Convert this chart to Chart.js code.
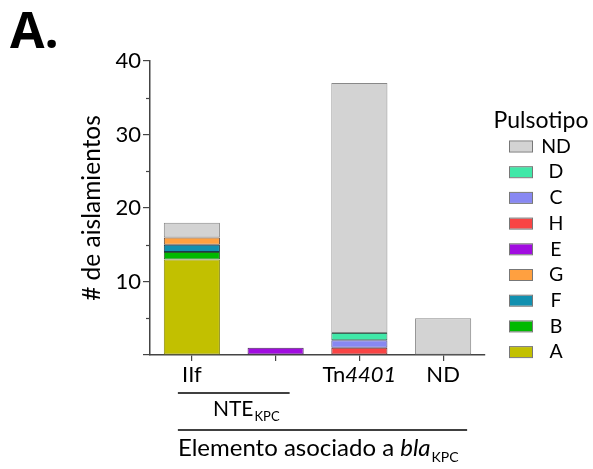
<!DOCTYPE html>
<html>
<head>
<meta charset="utf-8">
<script src="https://cdn.jsdelivr.net/npm/chart.js@4/dist/chart.umd.min.js"></script>
<style>
  html, body { margin: 0; padding: 0; background: #fff; }
  #wrap { position: relative; width: 593px; height: 469px; }
  canvas { position: absolute; left: 0; top: 0; }
</style>
</head>
<body>
<div id="wrap"><canvas id="c" width="593" height="469"></canvas></div>
<script>
// ---- data ----
const categories = ['IIf', '', 'Tn4401', 'ND'];
const seriesNames = ['A', 'B', 'F', 'G', 'E', 'H', 'C', 'D', 'ND'];
const valuesA  = [13, null, null, null];
const valuesB  = [1, null, null, null];
const valuesF  = [1, null, null, null];
const valuesG  = [1, null, null, null];
const valuesE  = [null, 1, null, null];
const valuesH  = [null, null, 1, null];
const valuesC  = [null, null, 1, null];
const valuesD  = [null, null, 1, null];
const valuesND = [2, null, 34, 5];
const yTickLabels = ['', '10', '20', '30', '40'];
const yMinorTicks = [5, 15, 25, 35];
const legendTitle = 'Pulsotipo';
const yTitle = '# de aislamientos';
const groupLabel = 'NTE';
const groupSub = 'KPC';
const axisTitleMain = 'Elemento asociado a ';
const axisTitleItalic = 'bla';
const axisTitleSub = 'KPC';
const panelLabel = 'A.';

// ---- styles ----
const colors = {
  A: '#c2c000', B: '#00b900', F: '#1190b0', G: '#ffa040', E: '#a10ce0',
  H: '#f94444', C: '#8888f2', D: '#40e8a8', ND: '#d3d3d3'
};
const borders = {
  A: '#8a8a10', B: '#2a5a2a', F: '#1a3a4a', G: '#5a4030', E: '#4a2a5a',
  H: '#6a3030', C: '#4a4a7a', D: '#3a6a5a', ND: '#888888'
};
const valueMap = { A: valuesA, B: valuesB, F: valuesF, G: valuesG, E: valuesE,
  H: valuesH, C: valuesC, D: valuesD, ND: valuesND };

const FONT = 'Lato, "Open Sans", sans-serif';

const datasets = seriesNames.map(n => ({
  label: n,
  data: valueMap[n],
  backgroundColor: colors[n],
  borderColor: borders[n],
  borderWidth: 1,
  borderSkipped: false,
  categoryPercentage: 1.0,
  barPercentage: 0.67
}));

const extras = {
  id: 'extras',
  afterDraw(chart) {
    const ctx = chart.ctx;
    const xs = chart.scales.x, ys = chart.scales.y;
    const ca = chart.chartArea;
    ctx.save();
    // minor y ticks
    ctx.strokeStyle = '#444';
    ctx.lineWidth = 1.2;
    yMinorTicks.forEach(v => {
      const y = Math.round(ys.getPixelForValue(v)) + 0.5;
      ctx.beginPath();
      ctx.moveTo(ca.left - 4, y);
      ctx.lineTo(ca.left, y);
      ctx.stroke();
    });
    // x category labels
    ctx.fillStyle = '#000';
    ctx.textBaseline = 'middle';
    const ly = ca.bottom + 20;
    const CS = 22;
    categories.forEach((lab, i) => {
      if (!lab) return;
      const x = xs.getPixelForValue(i);
      const m = lab.match(/^(Tn)(\d+)$/);
      if (m) {
        ctx.font = CS + 'px ' + FONT;
        const w1 = ctx.measureText(m[1]).width;
        ctx.font = 'italic ' + CS + 'px ' + FONT;
        const w2 = ctx.measureText(m[2]).width;
        const start = x - (w1 + w2) / 2;
        ctx.textAlign = 'left';
        ctx.font = CS + 'px ' + FONT;
        ctx.fillText(m[1], start, ly);
        ctx.font = 'italic ' + CS + 'px ' + FONT;
        ctx.fillText(m[2], start + w1, ly);
      } else {
        ctx.font = CS + 'px ' + FONT;
        ctx.textAlign = 'center';
        ctx.fillText(lab, x, ly);
      }
    });
    // group line NTE_KPC
    const x0 = xs.getPixelForValue(0), x1 = xs.getPixelForValue(1), x3 = xs.getPixelForValue(3);
    ctx.strokeStyle = '#000';
    ctx.lineWidth = 1.3;
    ctx.beginPath();
    ctx.moveTo(x0 - 14, ca.bottom + 38);
    ctx.lineTo(x1 + 14, ca.bottom + 38);
    ctx.stroke();
    ctx.font = '21px ' + FONT;
    ctx.textAlign = 'left';
    const gw = ctx.measureText(groupLabel).width;
    ctx.font = '13px ' + FONT;
    const gsw = ctx.measureText(groupSub).width;
    const gx = (x0 - 14 + x1 + 14) / 2 - (gw + gsw) / 2 + 12;
    const gy = ca.bottom + 54;
    ctx.font = '21px ' + FONT;
    ctx.fillText(groupLabel, gx, gy);
    ctx.font = '13px ' + FONT;
    ctx.fillText(groupSub, gx + gw + 1, gy + 8);
    // axis title line
    ctx.beginPath();
    ctx.moveTo(x0 - 14, ca.bottom + 75);
    ctx.lineTo(x3 + 24, ca.bottom + 75);
    ctx.stroke();
    const ty = ca.bottom + 93;
    let tx = x0 - 14;
    ctx.font = '24px ' + FONT;
    ctx.fillText(axisTitleMain, tx, ty);
    tx += ctx.measureText(axisTitleMain).width;
    ctx.font = 'italic 24px ' + FONT;
    ctx.fillText(axisTitleItalic, tx, ty);
    tx += ctx.measureText(axisTitleItalic).width + 1;
    ctx.font = '14px ' + FONT;
    ctx.fillText(axisTitleSub, tx, ty + 9);
    // y title
    ctx.save();
    ctx.translate(92, (ca.top + ca.bottom) / 2 + 0);
    ctx.rotate(-Math.PI / 2);
    ctx.textAlign = 'center';
    ctx.font = '24.5px ' + FONT;
    ctx.fillText(yTitle, 0, 0);
    ctx.restore();
    // panel label
    ctx.font = 'bold 50px "Open Sans", ' + FONT;
    ctx.textAlign = 'left';
    ctx.fillText(panelLabel, 10, 34);
    // legend
    ctx.font = '23px ' + FONT;
    ctx.textAlign = 'center';
    ctx.fillText(legendTitle, 541, 121);
    const items = chart.data.datasets.slice().reverse();
    items.forEach((ds, k) => {
      const cy = 146.5 + k * 25.7;
      ctx.fillStyle = ds.backgroundColor;
      ctx.fillRect(509, cy - 5, 23, 10);
      ctx.strokeStyle = '#777';
      ctx.lineWidth = 1;
      ctx.strokeRect(509.5, cy - 5.5, 23, 11);
      ctx.fillStyle = '#000';
      ctx.font = '19.5px ' + FONT;
      ctx.textAlign = 'center';
      ctx.fillText(ds.label, 556, cy);
    });
    ctx.restore();
  }
};

new Chart(document.getElementById('c'), {
  type: 'bar',
  data: { labels: categories, datasets },
  options: {
    responsive: false,
    animation: false,
    layout: { padding: { left: 0, top: 61, right: 108, bottom: 114 } },
    plugins: { legend: { display: false }, tooltip: { enabled: false } },
    scales: {
      x: {
        stacked: true,
        afterFit(s) { s.height = 0; },
        grid: { offset: false, drawOnChartArea: false, drawTicks: true, tickLength: 6, color: '#444', lineWidth: 1.2 },
        border: { color: '#444', width: 1.5 },
        ticks: { display: false }
      },
      y: {
        stacked: true,
        min: 0, max: 40,
        afterFit(s) { s.width = 150; },
        grid: { drawOnChartArea: false, drawTicks: true, tickLength: 7, color: '#444', lineWidth: 1.2 },
        border: { color: '#444', width: 1.5 },
        ticks: {
          stepSize: 10, padding: 2, color: '#000',
          font: { family: FONT, size: 22 },
          callback: (v, i) => yTickLabels[i]
        }
      }
    }
  },
  plugins: [extras]
});
</script>
</body>
</html>
